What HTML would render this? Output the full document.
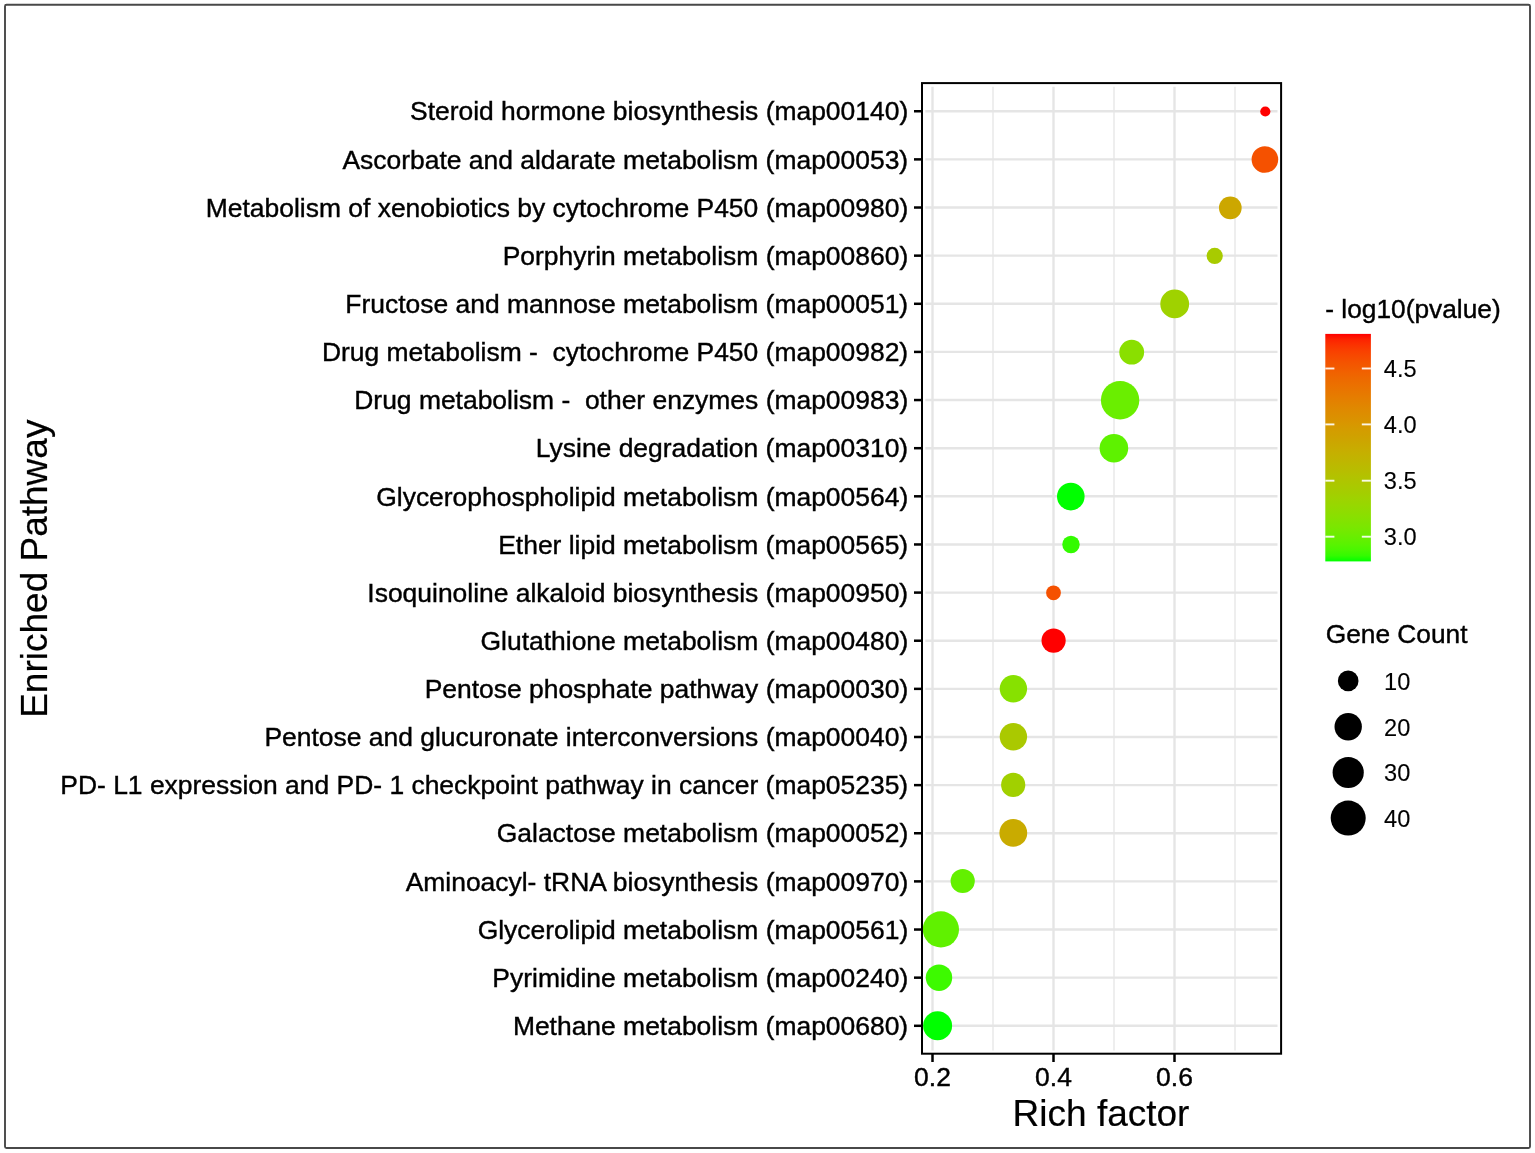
<!DOCTYPE html><html><head><meta charset="utf-8"><title>Enriched Pathway</title>
<style>html,body{margin:0;padding:0;background:#fff;}svg{display:block;}text{font-family:'Liberation Sans', Arial, Helvetica, sans-serif;fill:#000;stroke:#000;stroke-width:0.4px;white-space:pre;}</style></head><body>
<svg width="1535" height="1153" viewBox="0 0 1535 1153">
<rect x="0" y="0" width="1535" height="1153" fill="#fff"/>
<rect x="5" y="4.8" width="1525" height="1143.2" rx="1.5" fill="none" stroke="#484848" stroke-width="1.9"/>
<defs><linearGradient id="cb" x1="0" y1="0" x2="0" y2="1"><stop offset="0.0000" stop-color="#FF0000"/><stop offset="0.0250" stop-color="#FD2300"/><stop offset="0.0500" stop-color="#FB3300"/><stop offset="0.0750" stop-color="#F94000"/><stop offset="0.1000" stop-color="#F74A00"/><stop offset="0.1250" stop-color="#F45300"/><stop offset="0.1500" stop-color="#F25B00"/><stop offset="0.1750" stop-color="#F06300"/><stop offset="0.2000" stop-color="#ED6A00"/><stop offset="0.2250" stop-color="#EB7000"/><stop offset="0.2500" stop-color="#E87600"/><stop offset="0.2750" stop-color="#E67C00"/><stop offset="0.3000" stop-color="#E38200"/><stop offset="0.3250" stop-color="#E08800"/><stop offset="0.3500" stop-color="#DD8D00"/><stop offset="0.3750" stop-color="#DA9200"/><stop offset="0.4000" stop-color="#D79800"/><stop offset="0.4250" stop-color="#D39D00"/><stop offset="0.4500" stop-color="#D0A100"/><stop offset="0.4750" stop-color="#CCA600"/><stop offset="0.5000" stop-color="#C9AB00"/><stop offset="0.5250" stop-color="#C5B000"/><stop offset="0.5500" stop-color="#C1B400"/><stop offset="0.5750" stop-color="#BCB900"/><stop offset="0.6000" stop-color="#B8BD00"/><stop offset="0.6250" stop-color="#B3C200"/><stop offset="0.6500" stop-color="#AEC600"/><stop offset="0.6750" stop-color="#A9CA00"/><stop offset="0.7000" stop-color="#A4CE00"/><stop offset="0.7250" stop-color="#9ED300"/><stop offset="0.7500" stop-color="#98D700"/><stop offset="0.7750" stop-color="#91DB00"/><stop offset="0.8000" stop-color="#8ADF00"/><stop offset="0.8250" stop-color="#82E300"/><stop offset="0.8500" stop-color="#7AE700"/><stop offset="0.8750" stop-color="#70EB00"/><stop offset="0.9000" stop-color="#65EF00"/><stop offset="0.9250" stop-color="#59F300"/><stop offset="0.9500" stop-color="#49F700"/><stop offset="0.9750" stop-color="#33FB00"/><stop offset="1.0000" stop-color="#00FF00"/></linearGradient>
<clipPath id="pc"><rect x="923" y="84" width="357" height="968.7"/></clipPath></defs>
<g><line x1="993.00" y1="86.7" x2="993.00" y2="1050.5" stroke="#E5E5E5" stroke-width="1.3"/><line x1="1114.00" y1="86.7" x2="1114.00" y2="1050.5" stroke="#E5E5E5" stroke-width="1.3"/><line x1="1235.00" y1="86.7" x2="1235.00" y2="1050.5" stroke="#E5E5E5" stroke-width="1.3"/><line x1="932.50" y1="86.7" x2="932.50" y2="1050.5" stroke="#E5E5E5" stroke-width="2.4"/><line x1="1053.50" y1="86.7" x2="1053.50" y2="1050.5" stroke="#E5E5E5" stroke-width="2.4"/><line x1="1174.50" y1="86.7" x2="1174.50" y2="1050.5" stroke="#E5E5E5" stroke-width="2.4"/><line x1="925.3" y1="111.25" x2="1277.5" y2="111.25" stroke="#E5E5E5" stroke-width="2.4"/><line x1="925.3" y1="159.38" x2="1277.5" y2="159.38" stroke="#E5E5E5" stroke-width="2.4"/><line x1="925.3" y1="207.52" x2="1277.5" y2="207.52" stroke="#E5E5E5" stroke-width="2.4"/><line x1="925.3" y1="255.65" x2="1277.5" y2="255.65" stroke="#E5E5E5" stroke-width="2.4"/><line x1="925.3" y1="303.79" x2="1277.5" y2="303.79" stroke="#E5E5E5" stroke-width="2.4"/><line x1="925.3" y1="351.92" x2="1277.5" y2="351.92" stroke="#E5E5E5" stroke-width="2.4"/><line x1="925.3" y1="400.05" x2="1277.5" y2="400.05" stroke="#E5E5E5" stroke-width="2.4"/><line x1="925.3" y1="448.19" x2="1277.5" y2="448.19" stroke="#E5E5E5" stroke-width="2.4"/><line x1="925.3" y1="496.32" x2="1277.5" y2="496.32" stroke="#E5E5E5" stroke-width="2.4"/><line x1="925.3" y1="544.46" x2="1277.5" y2="544.46" stroke="#E5E5E5" stroke-width="2.4"/><line x1="925.3" y1="592.59" x2="1277.5" y2="592.59" stroke="#E5E5E5" stroke-width="2.4"/><line x1="925.3" y1="640.72" x2="1277.5" y2="640.72" stroke="#E5E5E5" stroke-width="2.4"/><line x1="925.3" y1="688.86" x2="1277.5" y2="688.86" stroke="#E5E5E5" stroke-width="2.4"/><line x1="925.3" y1="736.99" x2="1277.5" y2="736.99" stroke="#E5E5E5" stroke-width="2.4"/><line x1="925.3" y1="785.13" x2="1277.5" y2="785.13" stroke="#E5E5E5" stroke-width="2.4"/><line x1="925.3" y1="833.26" x2="1277.5" y2="833.26" stroke="#E5E5E5" stroke-width="2.4"/><line x1="925.3" y1="881.39" x2="1277.5" y2="881.39" stroke="#E5E5E5" stroke-width="2.4"/><line x1="925.3" y1="929.53" x2="1277.5" y2="929.53" stroke="#E5E5E5" stroke-width="2.4"/><line x1="925.3" y1="977.66" x2="1277.5" y2="977.66" stroke="#E5E5E5" stroke-width="2.4"/><line x1="925.3" y1="1025.80" x2="1277.5" y2="1025.80" stroke="#E5E5E5" stroke-width="2.4"/></g>
<g clip-path="url(#pc)"><circle cx="1265.3" cy="111.5" r="5.10" fill="#FF0000"/><circle cx="1264.9" cy="159.5" r="13.30" fill="#F55100"/><circle cx="1230.3" cy="207.9" r="11.35" fill="#CCA700"/><circle cx="1214.7" cy="255.9" r="8.10" fill="#A8CB00"/><circle cx="1174.7" cy="303.9" r="14.40" fill="#9FD200"/><circle cx="1131.7" cy="352.2" r="12.40" fill="#8ADF00"/><circle cx="1120.1" cy="400.2" r="19.20" fill="#6AEE00"/><circle cx="1113.9" cy="448.2" r="14.30" fill="#5EF200"/><circle cx="1070.8" cy="496.6" r="13.80" fill="#00FF00"/><circle cx="1071.0" cy="544.5" r="8.70" fill="#33FB00"/><circle cx="1053.5" cy="592.8" r="7.40" fill="#F55100"/><circle cx="1053.6" cy="640.6" r="12.10" fill="#FF0000"/><circle cx="1013.4" cy="688.8" r="13.70" fill="#87E100"/><circle cx="1013.4" cy="736.8" r="13.70" fill="#AAC900"/><circle cx="1013.2" cy="784.9" r="12.10" fill="#A1D000"/><circle cx="1013.3" cy="832.9" r="13.90" fill="#C9AB00"/><circle cx="962.7" cy="881.0" r="12.10" fill="#63F000"/><circle cx="940.9" cy="929.4" r="18.10" fill="#60F100"/><circle cx="939.0" cy="977.7" r="13.20" fill="#3DFA00"/><circle cx="937.6" cy="1025.8" r="14.50" fill="#00FF00"/></g>
<rect x="922" y="83.1" width="359.1" height="970.6" fill="none" stroke="#000" stroke-width="2"/>
<g><line x1="914.0" y1="111.25" x2="922" y2="111.25" stroke="#000" stroke-width="2.5"/><text x="908.2" y="120.45" font-size="26.45" text-anchor="end">Steroid hormone biosynthesis (map00140)</text><line x1="914.0" y1="159.38" x2="922" y2="159.38" stroke="#000" stroke-width="2.5"/><text x="908.2" y="168.58" font-size="26.45" text-anchor="end">Ascorbate and aldarate metabolism (map00053)</text><line x1="914.0" y1="207.52" x2="922" y2="207.52" stroke="#000" stroke-width="2.5"/><text x="908.2" y="216.72" font-size="26.45" text-anchor="end">Metabolism of xenobiotics by cytochrome P450 (map00980)</text><line x1="914.0" y1="255.65" x2="922" y2="255.65" stroke="#000" stroke-width="2.5"/><text x="908.2" y="264.85" font-size="26.45" text-anchor="end">Porphyrin metabolism (map00860)</text><line x1="914.0" y1="303.79" x2="922" y2="303.79" stroke="#000" stroke-width="2.5"/><text x="908.2" y="312.99" font-size="26.45" text-anchor="end">Fructose and mannose metabolism (map00051)</text><line x1="914.0" y1="351.92" x2="922" y2="351.92" stroke="#000" stroke-width="2.5"/><text x="908.2" y="361.12" font-size="26.45" text-anchor="end">Drug metabolism -  cytochrome P450 (map00982)</text><line x1="914.0" y1="400.05" x2="922" y2="400.05" stroke="#000" stroke-width="2.5"/><text x="908.2" y="409.25" font-size="26.45" text-anchor="end">Drug metabolism -  other enzymes (map00983)</text><line x1="914.0" y1="448.19" x2="922" y2="448.19" stroke="#000" stroke-width="2.5"/><text x="908.2" y="457.39" font-size="26.45" text-anchor="end">Lysine degradation (map00310)</text><line x1="914.0" y1="496.32" x2="922" y2="496.32" stroke="#000" stroke-width="2.5"/><text x="908.2" y="505.52" font-size="26.45" text-anchor="end">Glycerophospholipid metabolism (map00564)</text><line x1="914.0" y1="544.46" x2="922" y2="544.46" stroke="#000" stroke-width="2.5"/><text x="908.2" y="553.66" font-size="26.45" text-anchor="end">Ether lipid metabolism (map00565)</text><line x1="914.0" y1="592.59" x2="922" y2="592.59" stroke="#000" stroke-width="2.5"/><text x="908.2" y="601.79" font-size="26.45" text-anchor="end">Isoquinoline alkaloid biosynthesis (map00950)</text><line x1="914.0" y1="640.72" x2="922" y2="640.72" stroke="#000" stroke-width="2.5"/><text x="908.2" y="649.92" font-size="26.45" text-anchor="end">Glutathione metabolism (map00480)</text><line x1="914.0" y1="688.86" x2="922" y2="688.86" stroke="#000" stroke-width="2.5"/><text x="908.2" y="698.06" font-size="26.45" text-anchor="end">Pentose phosphate pathway (map00030)</text><line x1="914.0" y1="736.99" x2="922" y2="736.99" stroke="#000" stroke-width="2.5"/><text x="908.2" y="746.19" font-size="26.45" text-anchor="end">Pentose and glucuronate interconversions (map00040)</text><line x1="914.0" y1="785.13" x2="922" y2="785.13" stroke="#000" stroke-width="2.5"/><text x="908.2" y="794.33" font-size="26.45" text-anchor="end">PD- L1 expression and PD- 1 checkpoint pathway in cancer (map05235)</text><line x1="914.0" y1="833.26" x2="922" y2="833.26" stroke="#000" stroke-width="2.5"/><text x="908.2" y="842.46" font-size="26.45" text-anchor="end">Galactose metabolism (map00052)</text><line x1="914.0" y1="881.39" x2="922" y2="881.39" stroke="#000" stroke-width="2.5"/><text x="908.2" y="890.59" font-size="26.45" text-anchor="end">Aminoacyl- tRNA biosynthesis (map00970)</text><line x1="914.0" y1="929.53" x2="922" y2="929.53" stroke="#000" stroke-width="2.5"/><text x="908.2" y="938.73" font-size="26.45" text-anchor="end">Glycerolipid metabolism (map00561)</text><line x1="914.0" y1="977.66" x2="922" y2="977.66" stroke="#000" stroke-width="2.5"/><text x="908.2" y="986.86" font-size="26.45" text-anchor="end">Pyrimidine metabolism (map00240)</text><line x1="914.0" y1="1025.80" x2="922" y2="1025.80" stroke="#000" stroke-width="2.5"/><text x="908.2" y="1035.00" font-size="26.45" text-anchor="end">Methane metabolism (map00680)</text></g>
<g><line x1="932.50" y1="1053.7" x2="932.50" y2="1062.0" stroke="#000" stroke-width="2.5"/><text x="932.50" y="1086.0" font-size="26.45" text-anchor="middle">0.2</text><line x1="1053.50" y1="1053.7" x2="1053.50" y2="1062.0" stroke="#000" stroke-width="2.5"/><text x="1053.50" y="1086.0" font-size="26.45" text-anchor="middle">0.4</text><line x1="1174.50" y1="1053.7" x2="1174.50" y2="1062.0" stroke="#000" stroke-width="2.5"/><text x="1174.50" y="1086.0" font-size="26.45" text-anchor="middle">0.6</text></g>
<text x="1101.0" y="1126.1" font-size="37" text-anchor="middle" style="stroke-width:0.2px">Rich factor</text>
<text transform="translate(46.7,568.7) rotate(-90)" x="0" y="0" font-size="37" text-anchor="middle" style="stroke-width:0.2px">Enriched Pathway</text>
<text x="1325.3" y="318.4" font-size="26.3">- log10(pvalue)</text>
<rect x="1325.3" y="333.9" width="45.6" height="227.5" fill="url(#cb)"/>
<g><line x1="1325.3" y1="368.5" x2="1334.4" y2="368.5" stroke="#fff" stroke-width="1.9" stroke-opacity="0.9"/><line x1="1361.8" y1="368.5" x2="1370.9" y2="368.5" stroke="#fff" stroke-width="1.9" stroke-opacity="0.9"/><text x="1383.8" y="377.2" font-size="23.6" style="stroke-width:0.1px">4.5</text><line x1="1325.3" y1="424.4" x2="1334.4" y2="424.4" stroke="#fff" stroke-width="1.9" stroke-opacity="0.9"/><line x1="1361.8" y1="424.4" x2="1370.9" y2="424.4" stroke="#fff" stroke-width="1.9" stroke-opacity="0.9"/><text x="1383.8" y="433.1" font-size="23.6" style="stroke-width:0.1px">4.0</text><line x1="1325.3" y1="480.7" x2="1334.4" y2="480.7" stroke="#fff" stroke-width="1.9" stroke-opacity="0.9"/><line x1="1361.8" y1="480.7" x2="1370.9" y2="480.7" stroke="#fff" stroke-width="1.9" stroke-opacity="0.9"/><text x="1383.8" y="489.4" font-size="23.6" style="stroke-width:0.1px">3.5</text><line x1="1325.3" y1="536.7" x2="1334.4" y2="536.7" stroke="#fff" stroke-width="1.9" stroke-opacity="0.9"/><line x1="1361.8" y1="536.7" x2="1370.9" y2="536.7" stroke="#fff" stroke-width="1.9" stroke-opacity="0.9"/><text x="1383.8" y="545.4" font-size="23.6" style="stroke-width:0.1px">3.0</text></g>
<text x="1325.7" y="642.9" font-size="26.3">Gene Count</text>
<g><circle cx="1348.2" cy="680.9" r="10.3" fill="#000"/><text x="1384.1" y="689.7" font-size="23.6" style="stroke-width:0.1px">10</text><circle cx="1348.2" cy="726.8" r="13.7" fill="#000"/><text x="1384.1" y="735.6" font-size="23.6" style="stroke-width:0.1px">20</text><circle cx="1348.2" cy="772.5" r="15.6" fill="#000"/><text x="1384.1" y="781.3" font-size="23.6" style="stroke-width:0.1px">30</text><circle cx="1348.2" cy="818.1" r="17.5" fill="#000"/><text x="1384.1" y="826.9" font-size="23.6" style="stroke-width:0.1px">40</text></g>
</svg></body></html>
